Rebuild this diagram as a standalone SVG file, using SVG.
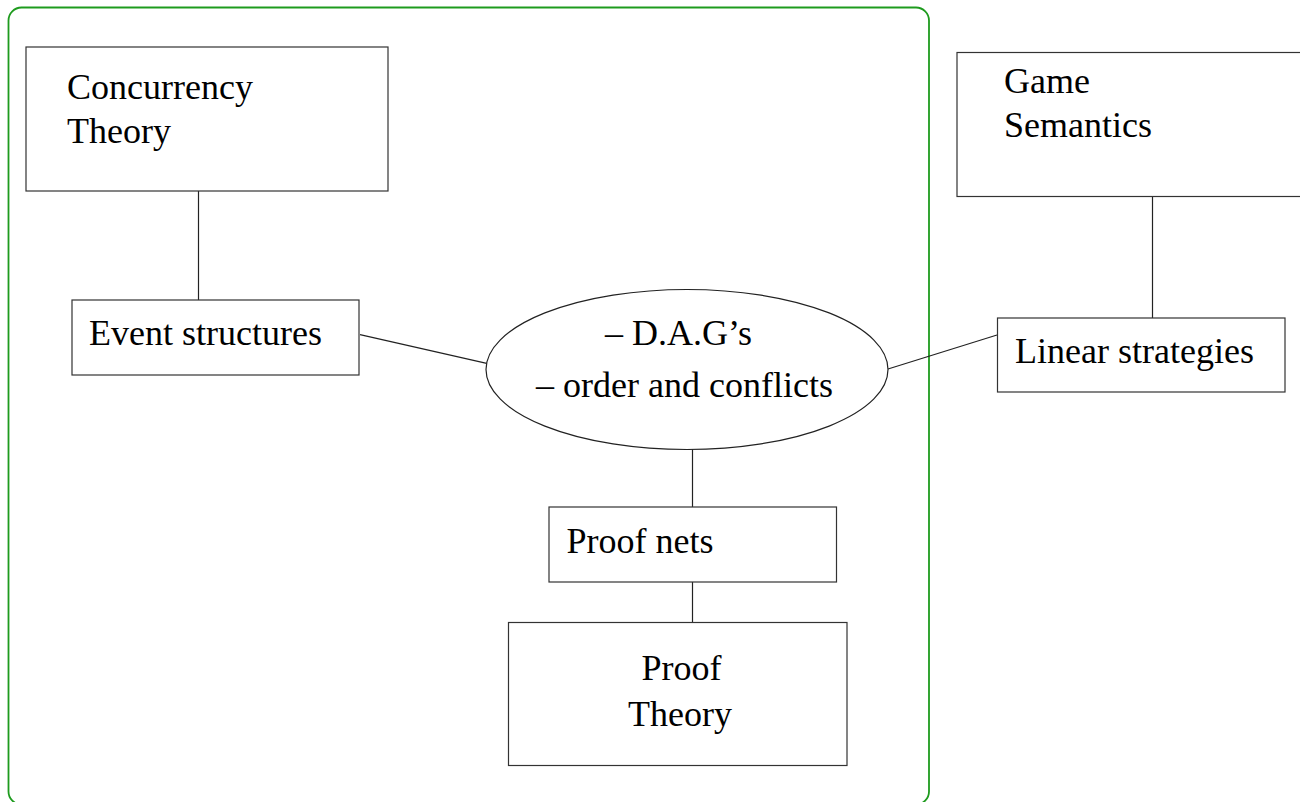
<svg xmlns="http://www.w3.org/2000/svg" width="1300" height="802" viewBox="0 0 1300 802">
<style>
.box{fill:#fff;stroke:#333;stroke-width:1.2}
.lbl{font-family:"Liberation Serif","Times New Roman",serif;font-size:36px;fill:#000}
.conn line{stroke:#222;stroke-width:1.2}
</style>
<rect width="1300" height="802" fill="#fff"/>
<rect id="frame" x="8.5" y="7.5" width="920.5" height="797" rx="13" ry="13" fill="none" stroke="#1e9b1e" stroke-width="1.8"/>
<g id="connectors" class="conn">
<line x1="198.5" y1="191" x2="198.5" y2="300"/>
<line x1="360" y1="334.7" x2="486.7" y2="363.3"/>
<line x1="888" y1="369" x2="997" y2="335"/>
<line x1="1152.5" y1="197" x2="1152.5" y2="318"/>
<line x1="692.5" y1="449" x2="692.5" y2="507"/>
<line x1="692.5" y1="576" x2="692.5" y2="622"/>
</g>
<g id="concurrency">
<rect class="box" x="26" y="47" width="362" height="144"/>
<text class="lbl" x="67" y="99">Concurrency</text>
<text class="lbl" x="67" y="143">Theory</text>
</g>
<g id="event">
<rect class="box" x="72" y="300" width="287" height="75"/>
<text class="lbl" x="89" y="345">Event structures</text>
</g>
<g id="dag">
<ellipse cx="687" cy="369.5" rx="201" ry="80" fill="#fff" stroke="#222" stroke-width="1.2"/>
<text class="lbl" x="605" y="345">– D.A.G’s</text>
<text class="lbl" x="536" y="397">– order and conflicts</text>
</g>
<g id="game">
<rect class="box" x="957" y="52.5" width="360" height="144"/>
<text class="lbl" x="1004" y="93">Game</text>
<text class="lbl" x="1004" y="137">Semantics</text>
</g>
<g id="linear">
<rect class="box" x="997.5" y="318" width="287.5" height="74"/>
<text class="lbl" x="1015" y="363">Linear strategies</text>
</g>
<g id="proofnets">
<rect class="box" x="549" y="507" width="287.5" height="75"/>
<text class="lbl" x="566.5" y="552.5">Proof nets</text>
</g>
<g id="prooftheory">
<rect class="box" x="508.5" y="622.5" width="338.5" height="143"/>
<text class="lbl" x="641.5" y="680">Proof</text>
<text class="lbl" x="628" y="726">Theory</text>
</g>
</svg>
